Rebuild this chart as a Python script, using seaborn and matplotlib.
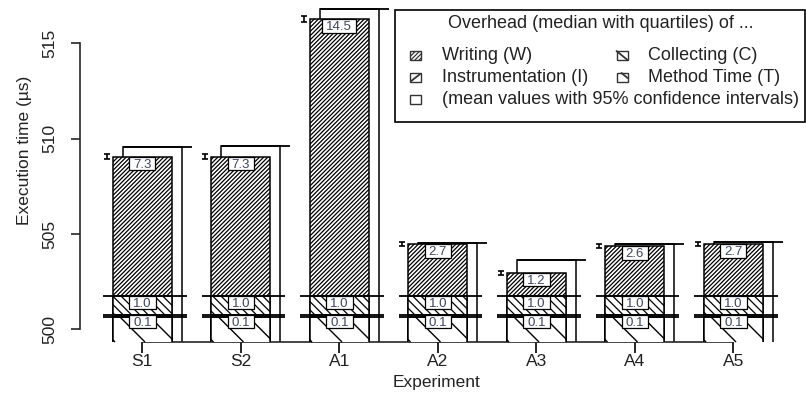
import numpy as np
import pandas as pd
import matplotlib
matplotlib.use("Agg")
import matplotlib.pyplot as plt
import seaborn as sns
from matplotlib.patches import Rectangle
from matplotlib.lines import Line2D

# ---------------- data ----------------
experiments = ["S1", "S2", "A1", "A2", "A3", "A4", "A5"]
method_time = [500.66, 500.66, 500.66, 500.66, 500.66, 500.66, 500.66]   # T (median)
instrumentation = [0.1, 0.1, 0.1, 0.1, 0.1, 0.1, 0.1]                    # I
collecting = [1.0, 1.0, 1.0, 1.0, 1.0, 1.0, 1.0]                         # C
writing = [7.3, 7.3, 14.5, 2.7, 1.2, 2.6, 2.7]                           # W
mean_total = [509.55, 509.6, 516.8, 504.55, 503.65, 504.45, 504.6]       # mean values
ci_half = [0.15, 0.15, 0.15, 0.1, 0.1, 0.1, 0.1]                          # 95% CI half width
y_ticks = [500, 505, 510, 515]

legend_title = "Overhead (median with quartiles) of ..."
legend_items = ["Writing (W)", "Collecting (C)", "Instrumentation (I)",
                "Method Time (T)", "(mean values with 95% confidence intervals)"]

# ---------------- setup ----------------
sns.set_style("ticks")
plt.rcParams["font.family"] = ["Liberation Sans", "DejaVu Sans"]
plt.rcParams["hatch.linewidth"] = 0.9

W, H = 806, 394
fig = plt.figure(figsize=(W / 100, H / 100), dpi=100)
ax = fig.add_axes([80 / W, (H - 341.7) / H, (805 - 80) / W, (341.7 - 5) / H])

df = pd.DataFrame({
    "Experiment": experiments,
    "t_top": method_time,
})
df["i_top"] = df["t_top"] + np.array(instrumentation)
df["c_top"] = df["i_top"] + np.array(collecting)
df["w_top"] = df["c_top"] + np.array(writing)
xpos = np.arange(len(experiments))

ylo = 499.35
yhi = ylo + (341.7 - 5) / 19.07
ax.set_xlim(-0.632, 6.728)
ax.set_ylim(ylo, yhi)

# mean bars (outlined, behind)
ax.bar(xpos + 0.1, mean_total, width=0.6, fill=False, edgecolor="black",
       linewidth=1.1, zorder=2)
ax.hlines(mean_total, xpos - 0.2, xpos + 0.5, color="black", linewidth=1.3, zorder=2)

# median stacked bars (overlayed from top to bottom)
layers = [("w_top", "////////"), ("c_top", "\\\\\\\\"), ("i_top", None), ("t_top", None)]
t_patches = []
for col, hatch in layers:
    n0 = len(ax.patches)
    sns.barplot(data=df, x="Experiment", y=col, color="white", edgecolor="black",
                linewidth=1.1, width=0.6, errorbar=None, hatch=hatch, saturation=1,
                ax=ax, zorder=3)
    if col == "t_top":
        t_patches = ax.patches[n0:]
ax.set_xlabel("")
ax.set_ylabel("")
ax.set_xlim(-0.632, 6.728)
ax.set_ylim(ylo, yhi)

# boundary lines across bars
for col in ["t_top", "i_top", "c_top"]:
    ax.hlines(df[col], xpos - 0.395, xpos + 0.45, color="black", linewidth=1.3, zorder=4)

# small error bars at the top left
ax.errorbar(xpos - 0.36, df["w_top"], yerr=ci_half, fmt="none", ecolor="black",
            elinewidth=1.2, capsize=2.5, capthick=1.2, zorder=4)

# sparse hatching of method time segment
p0 = ax.transData.transform((0, 500))
sx = ax.transData.transform((1, 500))[0] - p0[0]
sy = ax.transData.transform((0, 501))[1] - p0[1]
for p in t_patches:
    L = p.get_x()
    top = p.get_y() + p.get_height()
    d = (top - ylo) * sy / sx
    for k in range(-3, 4):
        x0 = L + (7 + 30 * k) / sx
        ln = Line2D([x0, x0 + d], [top, ylo], color="black", linewidth=1.0, zorder=3.5)
        ax.add_line(ln)
        ln.set_clip_path(p)

# value labels in boxes
renderer = fig.canvas.get_renderer()
lab_color = "#3d4660"
for i in range(len(experiments)):
    for val, seg_top in [(writing[i], df["w_top"][i]),
                         (collecting[i], df["c_top"][i]),
                         (instrumentation[i], df["i_top"][i])]:
        t = ax.text(i, seg_top - 11.0 / sy, f"{val:.1f}", ha="center", va="baseline",
                    fontsize=9.5, color=lab_color, zorder=7)
        wpx = t.get_window_extent(renderer).width
        bw = (wpx + 8) / sx
        bh = 13.4 / sy
        ax.add_patch(Rectangle((i - bw / 2, seg_top - bh), bw, bh, facecolor="white",
                               edgecolor="black", linewidth=0.9, zorder=6))

# axes styling (R-like)
ax.set_xticks(xpos)
ax.set_xticklabels(experiments)
ax.set_yticks(y_ticks)
ax.set_yticklabels([str(v) for v in y_ticks])
sns.despine(ax=ax, trim=True)
ax.set_xlim(-0.632, 6.728)
ax.set_ylim(ylo, yhi)
for s in ["left", "bottom"]:
    ax.spines[s].set_linewidth(1.2)
ax.tick_params(axis="x", length=8, width=1.2, pad=1, labelsize=12.5, colors="black",
               labelcolor="#222222")
ax.tick_params(axis="y", length=6.5, width=1.2, pad=9.5, labelsize=12.5,
               labelrotation=90, labelcolor="#222222")
for lab in ax.get_yticklabels():
    lab.set_va("center")

fig.text(437 / W, 1 - 383 / H, "Experiment", ha="center", va="center",
         fontsize=12.5, color="#222222")
fig.text(25 / W, 1 - 150 / H, "Execution time (µs)", ha="center", va="center",
         rotation=90, fontsize=12.5, color="#222222")

# ---------------- legend (manual, R style) ----------------
def fx(px):
    return px / W

def fy(py):
    return 1 - py / H

fig.add_artist(Rectangle((fx(395), fy(121.7)), (805 - 395) / W, (121.7 - 10) / H,
                         transform=fig.transFigure, facecolor="white",
                         edgecolor="black", linewidth=1.2, zorder=10))
fig.text(fx(601), fy(23), legend_title, ha="center", va="center", fontsize=13,
         color="#222222", zorder=11)

sym_w, sym_h = 11, 9
rows = [(415.7, 55.5, legend_items[0], "W"), (622, 55.5, legend_items[1], "C"),
        (415.7, 77.5, legend_items[2], "I"), (622, 77.5, legend_items[3], "T"),
        (415.7, 99.5, legend_items[4], "M")]
for cx, cy, label, kind in rows:
    x0, y0 = cx - sym_w / 2, cy + sym_h / 2
    hatch = "////////" if kind == "W" else None
    fig.add_artist(Rectangle((fx(x0), fy(y0)), sym_w / W, sym_h / H,
                             transform=fig.transFigure, facecolor="white",
                             edgecolor="#333333", linewidth=1.0, hatch=hatch, zorder=11))
    segs = []
    if kind == "C":
        segs = [((x0, cy - sym_h / 2), (x0 + sym_w, cy + sym_h / 2))]
    elif kind == "I":
        segs = [((x0 + 1, cy + sym_h / 2 - 1), (x0 + sym_w - 1, cy - sym_h / 2 + 1))]
    elif kind == "T":
        segs = [((x0 + 5, cy - sym_h / 2), (x0 + sym_w, cy - sym_h / 2 + 5))]
    for (a, b) in segs:
        fig.add_artist(Line2D([fx(a[0]), fx(b[0])], [fy(a[1]), fy(b[1])],
                              transform=fig.transFigure, color="#333333",
                              linewidth=1.3, zorder=12))
    tx = cx + 26
    fig.text(fx(tx), fy(cy), label, ha="left", va="center", fontsize=13,
             color="#222222", zorder=11)

fig.savefig("out.png", dpi=100)
